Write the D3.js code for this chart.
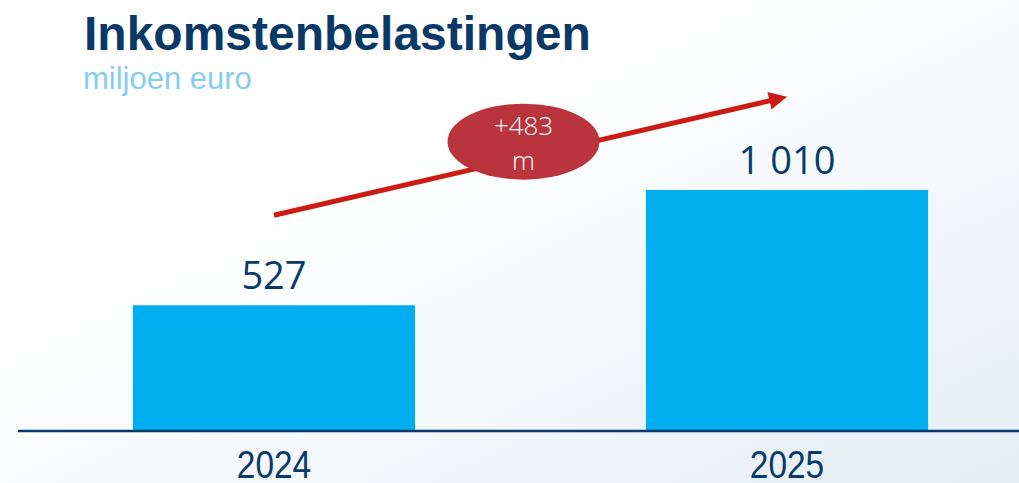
<!DOCTYPE html>
<html>
<head>
<meta charset="utf-8">
<script src="https://cdn.jsdelivr.net/npm/d3@7"></script>
<style>
  body { margin: 0; background: #fff; }
  svg { display: block; }
</style>
</head>
<body>
<svg id="chart" width="1019" height="483"></svg>
<script>
const years = ['2024', '2025'];
const values = [527, 1010];
const valueLabels = ['527', '1 010'];
const diffLabel = ['+483', 'm'];
const title = 'Inkomstenbelastingen';
const subtitle = 'miljoen euro';

const W = 1019, H = 483;
const baseY = 431;

const svg = d3.select('#chart');

// background wash
const defs = svg.append('defs');
const grad = defs.append('linearGradient')
  .attr('id', 'bg')
  .attr('x1', '0').attr('y1', '0').attr('x2', '1').attr('y2', '1');
grad.append('stop').attr('offset', '0.35').attr('stop-color', '#ffffff');
grad.append('stop').attr('offset', '1').attr('stop-color', '#e3eef4');
svg.append('rect').attr('width', W).attr('height', H).attr('fill', 'url(#bg)');

defs.append('marker')
  .attr('id', 'head')
  .attr('viewBox', '0 0 10 10')
  .attr('refX', 2).attr('refY', 5)
  .attr('markerWidth', 4.4).attr('markerHeight', 3.6)
  .attr('orient', 'auto')
  .attr('markerUnits', 'strokeWidth')
  .append('path')
  .attr('d', 'M0,0 L10,5 L0,10 Z')
  .attr('fill', '#cc1b12');

const x = d3.scaleBand()
  .domain(years)
  .range([18, 1043])
  .paddingInner(0.45)
  .paddingOuter(0.224);

const y = d3.scaleLinear()
  .domain([0, 1010])
  .range([baseY, 190]);

// bars
svg.selectAll('rect.bar')
  .data(years)
  .enter()
  .append('rect')
  .attr('class', 'bar')
  .attr('x', d => x(d))
  .attr('width', x.bandwidth())
  .attr('y', (d, i) => y(values[i]))
  .attr('height', (d, i) => baseY - y(values[i]))
  .attr('fill', '#00adee');

// baseline
svg.append('line')
  .attr('x1', 18).attr('x2', W)
  .attr('y1', baseY).attr('y2', baseY)
  .attr('stroke', '#0a3a6b')
  .attr('stroke-width', 2.5);

// value labels
svg.selectAll('text.val')
  .data(years)
  .enter()
  .append('text')
  .attr('class', 'val')
  .attr('x', d => x(d) + x.bandwidth() / 2)
  .attr('y', (d, i) => y(values[i]) - 16)
  .attr('text-anchor', 'middle')
  .attr('font-family', 'Open Sans, sans-serif')
  .attr('font-size', 38)
  .attr('font-weight', 400)
  .attr('fill', '#0a3a6b')
  .text((d, i) => valueLabels[i]);

// year labels (condensed look)
svg.selectAll('text.year')
  .data(years)
  .enter()
  .append('text')
  .attr('class', 'year')
  .attr('transform', d => `translate(${x(d) + x.bandwidth() / 2},478) scale(0.88,1)`)
  .attr('text-anchor', 'middle')
  .attr('font-family', 'Liberation Sans, Arial, sans-serif')
  .attr('font-size', 38)
  .attr('fill', '#0a3a6b')
  .text(d => d);

// growth arrow from first to second value
const cx = years.map(d => x(d) + x.bandwidth() / 2);
const a0 = [cx[0], y(values[0]) - 90];
const a1 = [cx[1] - 14, y(values[1]) - 90];
svg.append('line')
  .attr('x1', a0[0]).attr('y1', a0[1])
  .attr('x2', a1[0]).attr('y2', a1[1])
  .attr('stroke', '#cc1b12')
  .attr('stroke-width', 5)
  .attr('marker-end', 'url(#head)');

// difference badge
const bx = a0[0] + (a1[0] - a0[0]) * 0.5;
const by = a0[1] + (a1[1] - a0[1]) * 0.5 - 16;
svg.append('ellipse')
  .attr('cx', bx).attr('cy', by)
  .attr('rx', 76).attr('ry', 38)
  .attr('fill', '#ba343e');

svg.selectAll('text.diff')
  .data(diffLabel)
  .enter()
  .append('text')
  .attr('class', 'diff')
  .attr('x', bx)
  .attr('y', (d, i) => by - 7 + i * 35)
  .attr('text-anchor', 'middle')
  .attr('font-family', 'Open Sans, sans-serif')
  .attr('font-size', 26)
  .attr('font-weight', 300)
  .attr('fill', '#ffffff')
  .text(d => d);

// titles
svg.append('text')
  .attr('x', 84).attr('y', 50)
  .attr('font-family', 'Liberation Sans, Arial, sans-serif')
  .attr('font-size', 48)
  .attr('font-weight', 700)
  .attr('fill', '#0a3867')
  .text(title);

svg.append('text')
  .attr('x', 83).attr('y', 89)
  .attr('font-family', 'Liberation Sans, Arial, sans-serif')
  .attr('font-size', 31)
  .attr('fill', '#86cdef')
  .text(subtitle);
</script>
</body>
</html>
